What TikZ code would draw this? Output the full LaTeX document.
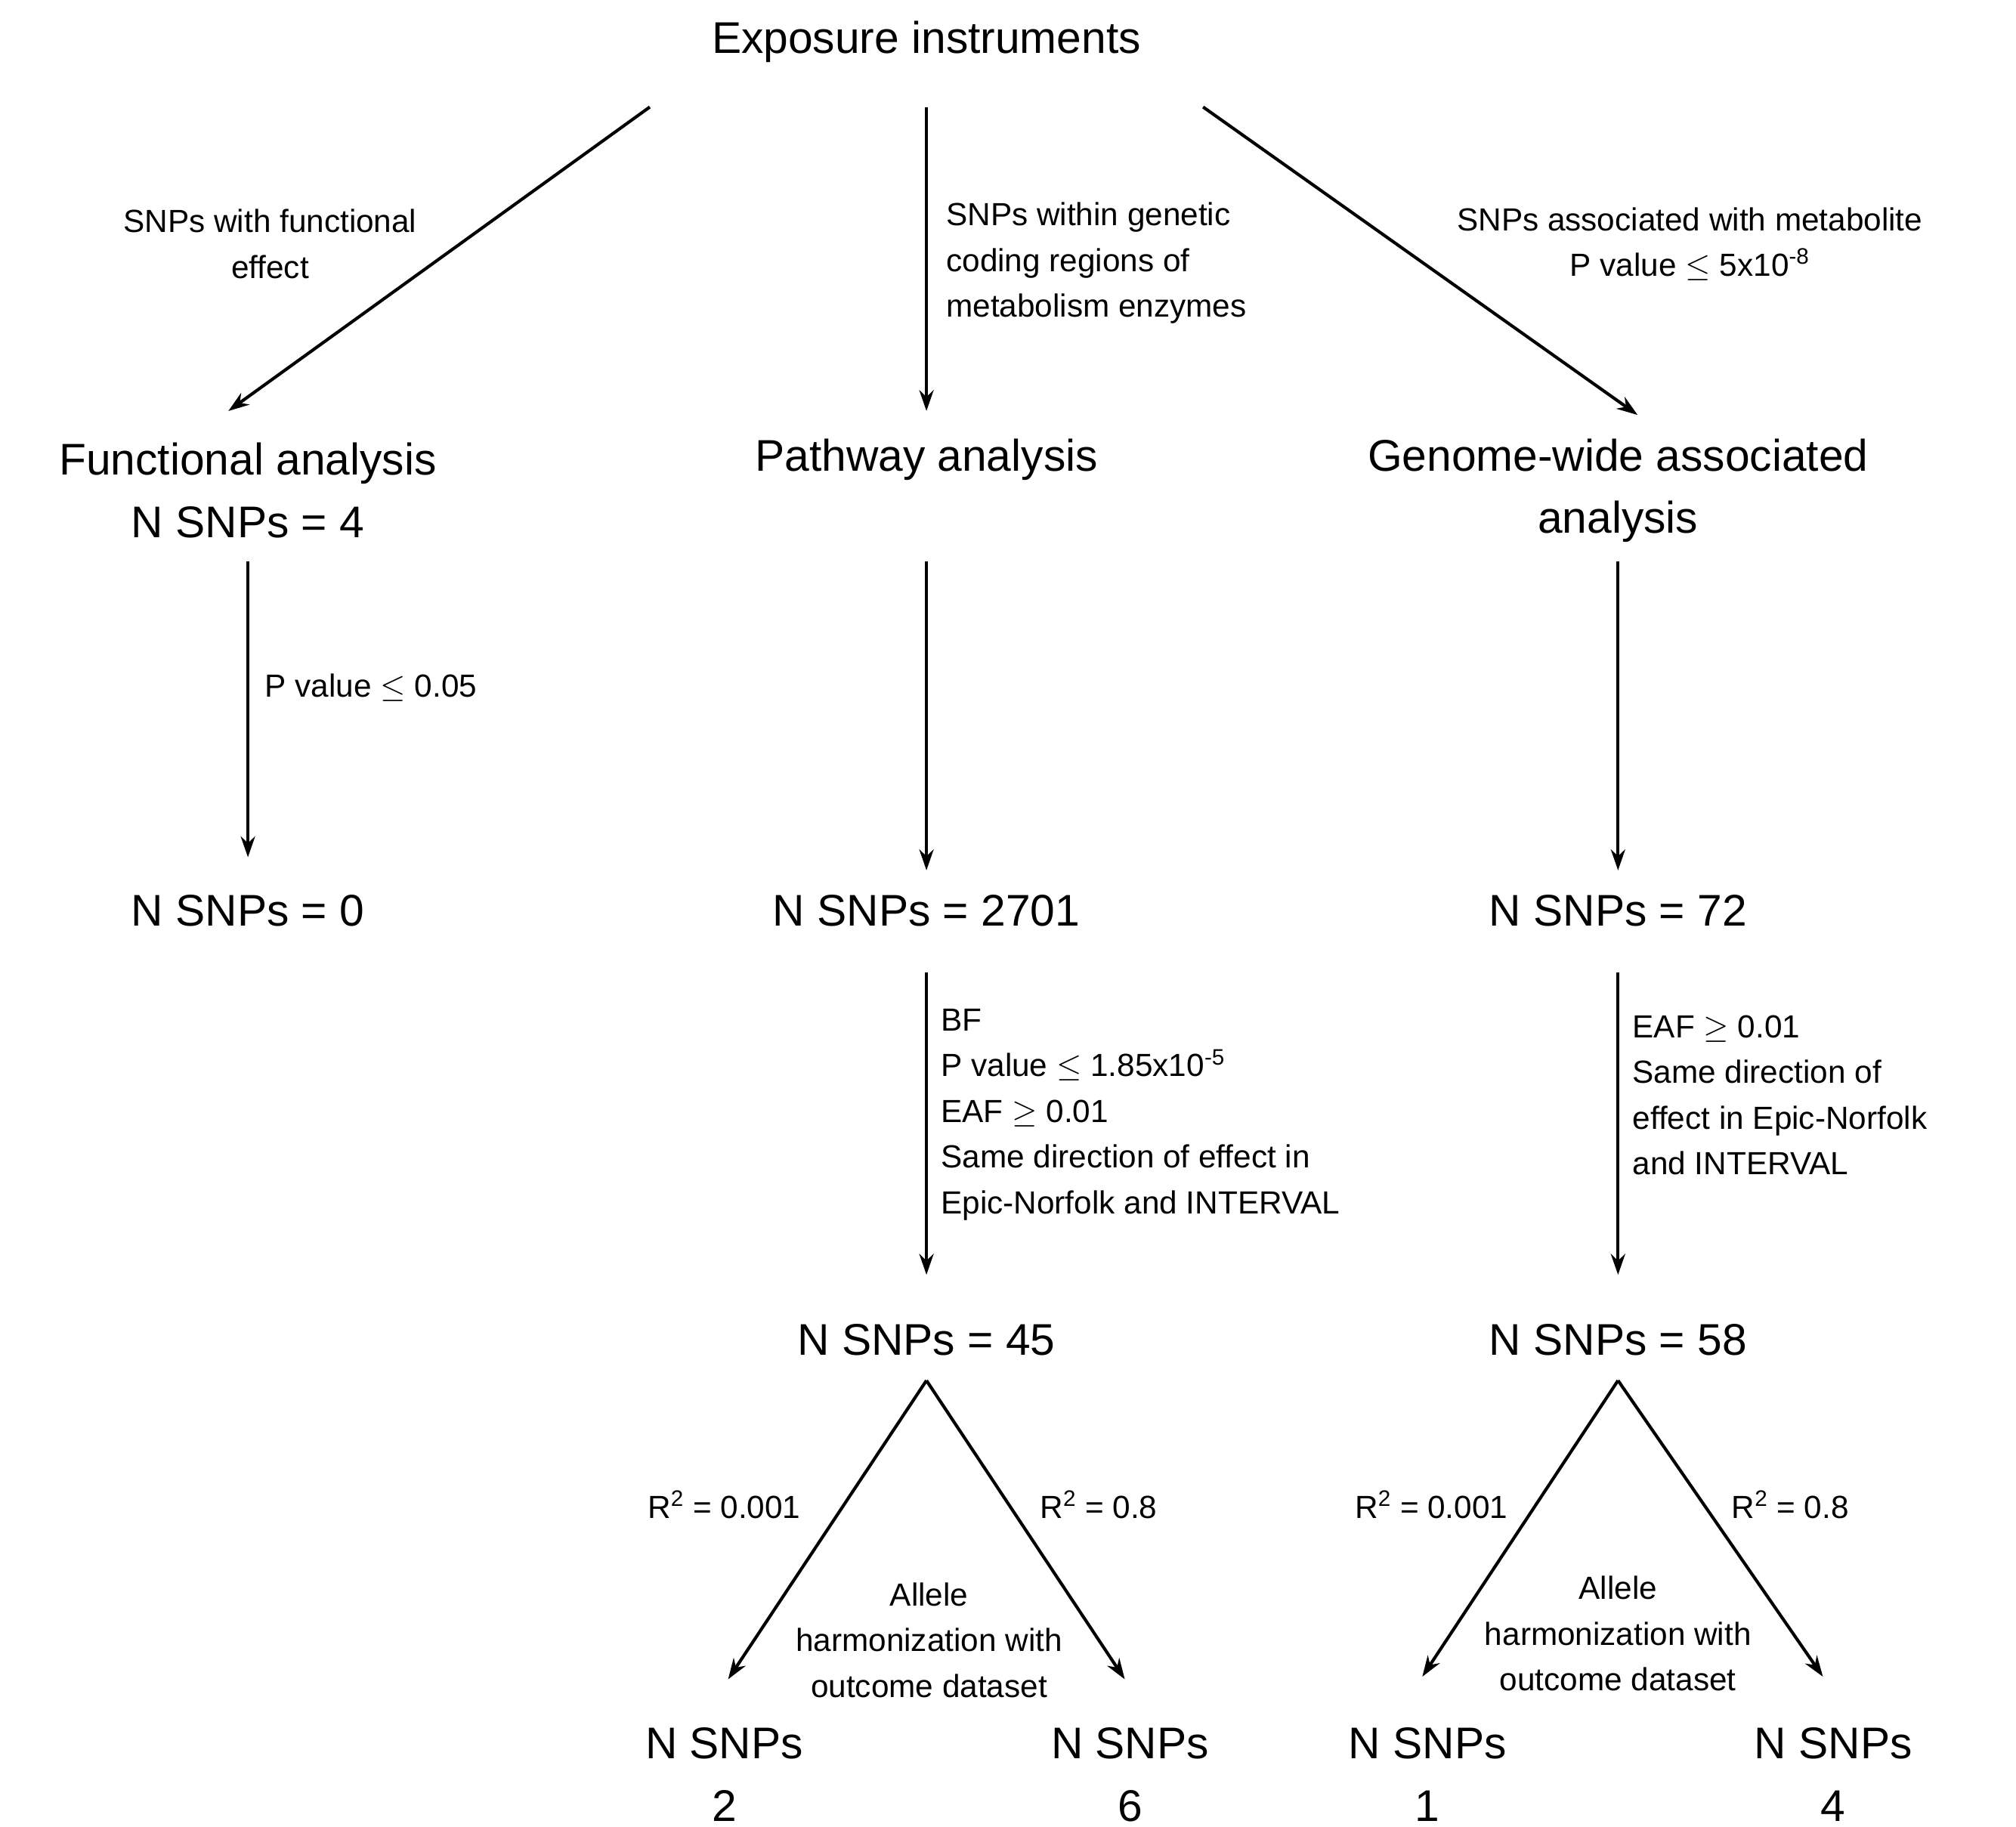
\documentclass[tikz,border=0pt]{standalone}
\usepackage{fontspec}
\setmainfont{Liberation Sans}
\usetikzlibrary{arrows.meta}
\begin{document}
\begin{tikzpicture}[x=1pt,y=-1pt,
  big/.style={font=\fontsize{34}{48}\selectfont,align=center,inner sep=0},
  small/.style={font=\fontsize{24.5}{35}\selectfont,inner sep=0},
  arr/.style={line width=2.4pt,-{Stealth[length=16pt,width=11pt]}}]
\useasboundingbox (0,0) rectangle (1545,1400);
\node[big] (exp) at (710,32) {Exposure instruments};
\coordinate (e1) at (498,82); \coordinate (e2) at (710,82); \coordinate (e3) at (922,82);
\coordinate (f0) at (175,315); \coordinate (p0) at (710,315); \coordinate (g0) at (1255,318);
\draw[arr] (e1) -- (f0);
\draw[arr] (e2) -- (p0);
\draw[arr] (e3) -- (g0);
\node[small,align=center] (l1) at (207,187) {SNPs with functional\\effect};
\node[small,align=left,anchor=north west] (l2) at (725,155) {SNPs within genetic\\coding regions of\\metabolism enzymes};
\node[small,align=center] (l3) at (1295,187) {SNPs associated with metabolite\\P value $\leq$ 5x10\textsuperscript{-8}};
\node[big] (fa) at (190,376) {Functional analysis\\N SNPs = 4};
\node[big] (pa) at (710,352) {Pathway analysis};
\node[big] (ga) at (1240,376) {Genome-wide associated\\analysis};
\coordinate (f1) at (190,430); \coordinate (f2) at (190,657);
\coordinate (p1) at (710,430); \coordinate (p2) at (710,667);
\coordinate (g1) at (1240,430); \coordinate (g2) at (1240,667);
\draw[arr] (f1) -- (f2);
\draw[arr] (p1) -- (p2);
\draw[arr] (g1) -- (g2);
\node[small,anchor=west] (l4) at (203,527) {P value $\leq$ 0.05};
\node[big] (f0n) at (190,698) {N SNPs = 0};
\node[big] (p0n) at (710,698) {N SNPs = 2701};
\node[big] (g0n) at (1240,698) {N SNPs = 72};
\coordinate (p3) at (710,745); \coordinate (p4) at (710,977);
\coordinate (g3) at (1240,745); \coordinate (g4) at (1240,977);
\draw[arr] (p3) -- (p4);
\draw[arr] (g3) -- (g4);
\node[small,align=left,anchor=north west] (l5) at (721,773) {BF\\P value $\leq$ 1.85x10\textsuperscript{-5}\\EAF $\geq$ 0.01\\Same direction of effect in\\Epic-Norfolk and INTERVAL};
\node[small,align=left,anchor=north west] (l6) at (1251,778) {EAF $\geq$ 0.01\\Same direction of\\effect in Epic-Norfolk\\ and INTERVAL};
\node[big] (p45) at (710,1027) {N SNPs = 45};
\node[big] (g58) at (1240,1027) {N SNPs = 58};
\coordinate (pa0) at (710,1058); \coordinate (pl) at (558,1287); \coordinate (pr) at (862,1287);
\coordinate (ga0) at (1240,1058); \coordinate (gl) at (1090,1285); \coordinate (gr) at (1397,1285);
\draw[arr] (pa0) -- (pl);
\draw[arr] (pa0) -- (pr);
\draw[arr] (ga0) -- (gl);
\draw[arr] (ga0) -- (gr);
\node[small] (r1) at (555,1153) {R\textsuperscript{2} = 0.001};
\node[small] (r2) at (842,1153) {R\textsuperscript{2} = 0.8};
\node[small] (r3) at (1097,1153) {R\textsuperscript{2} = 0.001};
\node[small] (r4) at (1372,1153) {R\textsuperscript{2} = 0.8};
\node[small,align=center] (a1) at (712,1257) {Allele\\harmonization with\\outcome dataset};
\node[small,align=center] (a2) at (1240,1252) {Allele\\harmonization with\\outcome dataset};
\node[big] (n2) at (555,1360) {N SNPs\\2};
\node[big] (n6) at (866,1360) {N SNPs\\6};
\node[big] (n1) at (1094,1360) {N SNPs\\1};
\node[big] (n4) at (1405,1360) {N SNPs\\4};
\end{tikzpicture}
\end{document}
